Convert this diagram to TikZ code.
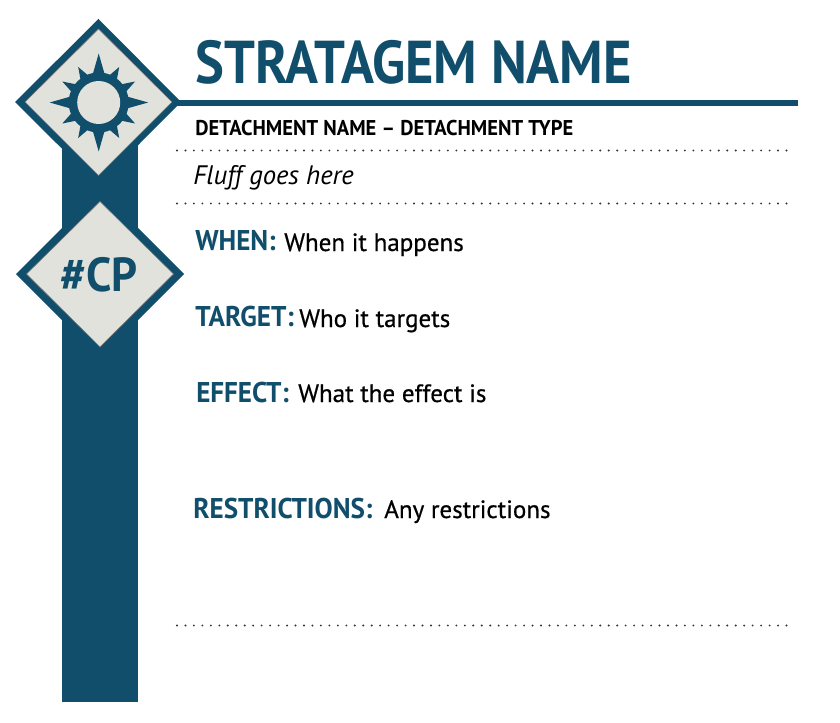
\documentclass[tikz,border=0pt]{standalone}
\usepackage{fontspec}
\setmainfont{PT Sans}
\newfontfamily\titlefont[FakeStretch=0.9]{PT Sans}
\newfontfamily\subfont[FakeStretch=0.96]{PT Sans}
\newfontfamily\lblfont[FakeStretch=0.95]{PT Sans}
\newfontfamily\txtfont[FakeBold=0.6]{PT Sans}
\usetikzlibrary{calc}
\definecolor{cardblue}{HTML}{104E6B}
\definecolor{cardgrey}{HTML}{E1E2DB}

\begin{document}
\begin{tikzpicture}[x=0.025cm,y=-0.025cm,
  outer/.style={fill=cardblue},
  inner/.style={fill=cardgrey, draw=black!55, line width=0.4pt},
  hdr/.style={anchor=base west, inner sep=0pt, font=\titlefont\bfseries\fontsize{43}{43}\selectfont, text=cardblue},
  sub/.style={anchor=base west, inner sep=0pt, font=\subfont\bfseries\fontsize{15.2}{15.2}\selectfont},
  lbl/.style={anchor=base west, inner sep=0pt, font=\lblfont\bfseries\fontsize{20.3}{20.3}\selectfont, text=cardblue},
  txt/.style={anchor=base west, inner sep=0pt, font=\txtfont\fontsize{17.8}{17.8}\selectfont},
  sep/.style={line width=1.5pt, line cap=round, dash pattern=on 0pt off 6.02pt, black!80},
]
\useasboundingbox (0,0) rectangle (840,722);

%% Spine and rule
\fill[cardblue] (62,100) rectangle (138,702);
\coordinate (ruleL) at (176,103);
\coordinate (ruleR) at (798,103);
\draw[cardblue, line width=4.25pt] (ruleL) -- (ruleR);

%% Top lozenge with sun
\fill[outer] (98.5,19) -- (181,102) -- (98.5,185) -- (15,102) -- cycle;
\draw[inner] (98.5,29) -- (172,102) -- (98.5,175.5) -- (25,102) -- cycle;
\foreach \a/\r/\w in {0/49.5/14, 90/49/14, 180/49/14, 270/49/14,
                      30/42/11, 60/41/11, 120/41/11, 150/42/11,
                      210/42/11, 240/41/11, 300/41/11, 330/42/11}
  \fill[cardblue] ($(98.7,102.5)+(\a:\r)$) -- ($(98.7,102.5)+(\a+\w:27)$) -- ($(98.7,102.5)+(\a-\w:27)$) -- cycle;
\fill[cardblue] (98.7,102.5) circle (30);
\fill[cardgrey] (98.7,102.5) circle (21.5);

%% Lower lozenge with cost
\fill[outer] (100,190) -- (184,274) -- (100,358) -- (16,274) -- cycle;
\draw[inner] (100,201.5) -- (173.5,274) -- (100,347) -- (26.5,274) -- cycle;
\node[inner sep=0pt, font=\lblfont\bfseries\fontsize{34}{34}\selectfont, text=cardblue] (cost) at (99,275) {\#CP};

%% Heading
\node[hdr] (title) at (195,84) {STRATAGEM NAME};
\node[sub] (detachment) at (195,136) {DETACHMENT NAME – DETACHMENT TYPE};
\node[anchor=base west, inner sep=0pt, font=\itshape\fontsize{19}{19}\selectfont] (fluff) at (193,184) {Fluff goes here};

%% Dotted lines
\coordinate (dotAL) at (177,150.5); \coordinate (dotAR) at (790,150.5);
\coordinate (dotBL) at (177,203.5); \coordinate (dotBR) at (790,203.5);
\coordinate (dotCL) at (177,625.5); \coordinate (dotCR) at (790,625.5);
\draw[sep] (dotAL) -- (dotAR);
\draw[sep] (dotBL) -- (dotBR);
\draw[sep] (dotCL) -- (dotCR);

%% Rules text
\node[lbl] (when) at (195,250) {WHEN:};
\node[txt] (whentxt) at (284,251) {When it happens};
\node[lbl] (target) at (195,326) {TARGET:};
\node[txt] (targettxt) at (299,327) {Who it targets};
\node[lbl] (effect) at (196,402) {EFFECT:};
\node[txt] (effecttxt) at (298,402) {What the effect is};
\node[lbl] (restrict) at (193,518) {RESTRICTIONS:};
\node[txt] (restricttxt) at (384,518) {Any restrictions};

\end{tikzpicture}
\end{document}
